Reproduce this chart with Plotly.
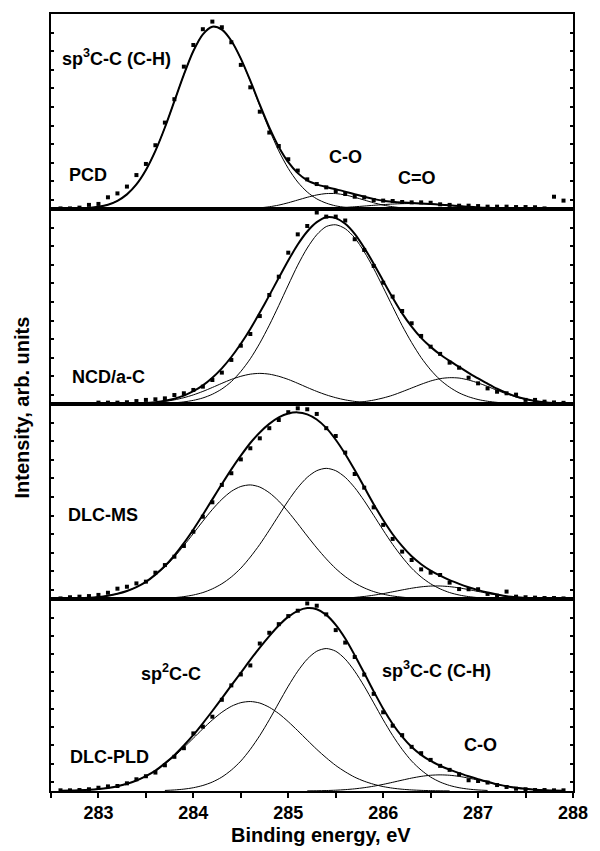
import plotly.graph_objects as go
from plotly.subplots import make_subplots

# Binding energy grid (eV), 0.1 eV step of the measurement
energy = [282.6, 282.7, 282.8, 282.9, 283.0, 283.1, 283.2, 283.3, 283.4, 283.5,
          283.6, 283.7, 283.8, 283.9, 284.0, 284.1, 284.2, 284.3, 284.4, 284.5,
          284.6, 284.7, 284.8, 284.9, 285.0, 285.1, 285.2, 285.3, 285.4, 285.5,
          285.6, 285.7, 285.8, 285.9, 286.0, 286.1, 286.2, 286.3, 286.4, 286.5,
          286.6, 286.7, 286.8, 286.9, 287.0, 287.1, 287.2, 287.3, 287.4, 287.5,
          287.6, 287.7, 287.8, 287.9]

# ---------------- PCD ----------------
pcd_data_start = 282.6
pcd_data = [0.3, 0.3, 0.7, 2.1, 2.6, 6.0, 8.0, 11.5, 17.4, 23.1,
            32.7, 44.3, 56.3, 73.0, 84.1, 92.2, 96.1, 93.2, 85.5, 73.9,
            62.4, 49.9, 39.2, 32.3, 25.5, 19.7, 15.2, 12.8, 11.1, 9.2,
            7.7, 6.3, 6.0, 4.6, 4.3, 4.1, 3.6, 3.4, 3.4, 3.2,
            2.4, 2.1, 1.7, 1.7, 1.5, 1.2, 1.2, 1.2, 1.0, 1.0,
            0.9, 0.3, 6.3, 4.3]
pcd_sp3_start = 282.6
pcd_sp3 = [0.04, 0.1, 0.2, 0.5, 1.1, 2.2, 4.2, 7.5, 12.6, 20.0,
           29.8, 41.8, 55.3, 68.9, 81.0, 89.6, 93.5, 92.0, 86.3, 77.0,
           65.5, 52.9, 40.7, 29.8, 20.8, 13.8, 8.7, 5.2, 3.0, 1.6,
           0.85, 0.4, 0.2, 0.1, 0.0]
pcd_co_start = 284.5
pcd_co = [0.13, 0.3, 0.6, 1.15, 2.0, 3.2, 4.6, 6.0, 7.2, 7.9,
          7.9, 7.2, 6.0, 4.6, 3.2, 2.0, 1.15, 0.6, 0.3, 0.13, 0.05]
pcd_c2o_start = 285.3
pcd_c2o = [0.24, 0.38, 0.58, 0.83, 1.15, 1.51, 1.89, 2.24, 2.54, 2.73,
           2.8, 2.73, 2.54, 2.24, 1.89, 1.51, 1.15, 0.83, 0.58, 0.38,
           0.24, 0.14, 0.08, 0.04]

# ---------------- NCD/a-C ----------------
ncd_data_start = 283.0
ncd_data = [0.7, 0.7, 0.7, 0.9, 1.5, 2.1, 2.4, 2.9, 4.6, 5.5,
            7.2, 8.9, 12.3, 16.1, 22.6, 29.9, 35.9, 45.1, 55.9, 65.3,
            77.6, 87.0, 91.3, 98.2, 96.1, 96.1, 94.1, 84.5, 79.0, 70.8,
            62.2, 55.1, 47.7, 41.4, 34.9, 29.4, 25.7, 21.2, 18.6, 13.5,
            10.6, 8.0, 6.3, 5.5, 4.8, 2.1, 2.1, 1.2, 0.8, 0.6]
ncd_low_start = 283.3
ncd_low = [0.12, 0.24, 0.45, 0.79, 1.33, 2.12, 3.23, 4.68, 6.45, 8.47,
           10.6, 12.6, 14.2, 15.3, 15.7, 15.3, 14.2, 12.6, 10.6, 8.47,
           6.45, 4.68, 3.23, 2.12, 1.33, 0.79, 0.45, 0.24, 0.12]
ncd_main_start = 283.6
ncd_main = [0.17, 0.33, 0.61, 1.08, 1.87, 3.1, 5.0, 7.7, 11.5, 16.7,
            23.2, 31.2, 40.4, 50.5, 61.0, 71.2, 80.0, 86.8, 91.0, 91.9,
            89.9, 85.2, 78.1, 69.5, 59.8, 49.9, 40.2, 31.5, 23.8, 17.5,
            12.4, 8.6, 5.7, 3.7, 2.3, 1.4, 0.82, 0.47, 0.26, 0.14, 0.07]
ncd_high_start = 285.4
ncd_high = [0.1, 0.2, 0.39, 0.71, 1.23, 2.0, 3.1, 4.5, 6.3, 8.2,
            10.1, 11.8, 13.0, 13.5, 13.3, 12.3, 10.8, 9.0, 7.0, 5.2,
            3.6, 2.4, 1.5, 0.89, 0.5, 0.26]

# ---------------- DLC-MS ----------------
dlcms_data_start = 282.6
dlcms_data = [0.3, 0.9, 1.2, 1.5, 2.1, 3.2, 5.3, 6.3, 8.0, 8.9,
              13.5, 17.4, 21.7, 27.2, 34.5, 42.2, 49.6, 58.5, 64.5, 71.6,
              77.3, 82.4, 87.6, 91.8, 95.8, 97.8, 97.3, 94.9, 87.6, 83.6,
              75.1, 64.1, 57.1, 47.0, 38.0, 30.8, 24.3, 20.0, 15.2, 13.5,
              12.3, 8.4, 5.1, 5.0, 5.0, 2.6, 1.7, 3.8, 1.2, 0.9,
              0.7, 0.5, 0.5, 0.3]
dlcms_sp2_start = 282.6
dlcms_sp2 = [0.1, 0.2, 0.35, 0.62, 1.04, 1.7, 2.69, 4.1, 6.1, 8.8,
             12.3, 16.5, 21.6, 27.4, 33.6, 39.9, 45.9, 51.1, 55.2, 57.7,
             58.5, 57.4, 54.5, 50.2, 44.7, 38.6, 32.3, 26.2, 20.6, 15.6,
             11.5, 8.2, 5.7, 3.8, 2.46, 1.54, 0.94, 0.55, 0.31, 0.17, 0.09]
dlcms_sp3_start = 283.6
dlcms_sp3 = [0.21, 0.39, 0.70, 1.22, 2.05, 3.3, 5.2, 7.8, 11.3, 15.8,
             21.5, 28.0, 35.3, 42.9, 50.4, 57.1, 62.4, 65.8, 67.0, 65.8,
             62.4, 57.1, 50.4, 42.9, 35.3, 28.0, 21.5, 15.8, 11.3, 7.8,
             5.2, 3.3, 2.05, 1.22, 0.70, 0.39, 0.21]
dlcms_co_start = 285.3
dlcms_co = [0.07, 0.15, 0.28, 0.49, 0.82, 1.30, 1.95, 2.75, 3.68, 4.64,
            5.53, 6.23, 6.63, 6.67, 6.34, 5.69, 4.83, 3.87, 2.93, 2.10,
            1.42, 0.91, 0.55, 0.31, 0.17, 0.09]

# ---------------- DLC-PLD ----------------
dlcpld_data_start = 282.6
dlcpld_data = [0.35, 0.35, 0.5, 0.9, 1.7, 2.4, 2.6, 4.0, 6.1, 7.7,
               9.6, 13.4, 17.8, 22.3, 30.0, 33.5, 38.7, 47.5, 55.0, 60.7,
               65.4, 76.8, 82.4, 86.9, 91.1, 93.9, 97.7, 96.5, 92.0, 83.8,
               77.3, 69.8, 60.6, 50.6, 41.0, 34.0, 29.1, 23.0, 19.7, 16.2,
               13.1, 11.0, 8.7, 5.6, 5.2, 4.4, 3.1, 2.1, 1.2, 0.9,
               0.5, 0.5, 0.35, 0.35]
dlcpld_sp2_start = 282.6
dlcpld_sp2 = [0.12, 0.21, 0.37, 0.62, 1.02, 1.62, 2.51, 3.77, 5.47, 7.73,
              10.6, 14.1, 18.1, 22.7, 27.5, 32.4, 37.0, 41.0, 44.1, 46.0,
              46.6, 45.8, 43.6, 40.3, 36.1, 31.4, 26.5, 21.7, 17.3, 13.3,
              10.0, 7.2, 5.1, 3.5, 2.3, 1.48, 0.92, 0.56, 0.33, 0.19,
              0.1, 0.05]
dlcpld_sp3_start = 283.7
dlcpld_sp3 = [0.29, 0.54, 0.98, 1.71, 2.88, 4.66, 7.25, 10.9, 15.6, 21.7,
              28.9, 37.1, 45.9, 54.6, 62.4, 68.7, 72.8, 74.2, 72.8, 68.7,
              62.4, 54.6, 45.9, 37.1, 28.9, 21.7, 15.6, 10.9, 7.25, 4.66,
              2.88, 1.71, 0.98, 0.54, 0.29]
dlcpld_co_start = 285.2
dlcpld_co = [0.07, 0.13, 0.24, 0.42, 0.71, 1.13, 1.73, 2.50, 3.45, 4.53,
             5.66, 6.73, 7.61, 8.2, 8.4, 8.2, 7.61, 6.73, 5.66, 4.53,
             3.45, 2.50, 1.73, 1.13, 0.71, 0.42, 0.24, 0.13]

# x tick labels (major ticks at integer eV, minor every 0.5 eV)
tick_values = [283, 284, 285, 286, 287, 288]
tick_labels = ["283", "284", "285", "286", "287", "288"]

panels = [
    (pcd_data_start, pcd_data, [(pcd_sp3_start, pcd_sp3), (pcd_co_start, pcd_co), (pcd_c2o_start, pcd_c2o)]),
    (ncd_data_start, ncd_data, [(ncd_low_start, ncd_low), (ncd_main_start, ncd_main), (ncd_high_start, ncd_high)]),
    (dlcms_data_start, dlcms_data, [(dlcms_sp2_start, dlcms_sp2), (dlcms_sp3_start, dlcms_sp3), (dlcms_co_start, dlcms_co)]),
    (dlcpld_data_start, dlcpld_data, [(dlcpld_sp2_start, dlcpld_sp2), (dlcpld_sp3_start, dlcpld_sp3), (dlcpld_co_start, dlcpld_co)]),
]

FONT = "Liberation Sans, Arial, sans-serif"

fig = make_subplots(rows=4, cols=1, shared_xaxes=True, vertical_spacing=0,
                    row_heights=[195, 195, 195, 192])


def idx(e):
    return [round(v, 1) for v in energy].index(round(e, 1))


for row, (dstart, data, comps) in enumerate(panels, start=1):
    env = [0.0] * len(energy)
    for cstart, vals in comps:
        j = idx(cstart)
        xs = energy[j:j + len(vals)]
        fig.add_trace(go.Scatter(x=xs, y=vals, mode="lines",
                                 line=dict(color="black", width=1, shape="spline", smoothing=0.8),
                                 hoverinfo="skip", showlegend=False), row=row, col=1)
        for k, v in enumerate(vals):
            env[j + k] += v
    fig.add_trace(go.Scatter(x=energy, y=env, mode="lines",
                             line=dict(color="black", width=2, shape="spline", smoothing=0.8),
                             hoverinfo="skip", showlegend=False), row=row, col=1)
    i0 = idx(dstart)
    fig.add_trace(go.Scatter(x=energy[i0:i0 + len(data)], y=data, mode="markers",
                             marker=dict(symbol="square", size=4, color="black"),
                             cliponaxis=False, showlegend=False), row=row, col=1)

for row in range(1, 5):
    fig.update_yaxes(range=[0, 100], showline=True, linecolor="black", linewidth=1.5,
                     mirror="ticks", ticks="inside", ticklen=3, tickwidth=1.5, tickcolor="black",
                     tick0=4.8, dtick=9.5, showticklabels=False, showgrid=False, zeroline=False,
                     row=row, col=1)
    fig.update_xaxes(range=[282.5, 288], showline=True, linecolor="black", linewidth=1.5,
                     mirror=True, showgrid=False, zeroline=False, row=row, col=1)

fig.update_xaxes(ticks="outside", ticklen=5, tickwidth=1.5, tickcolor="black",
                 tickmode="array", tickvals=tick_values, ticktext=tick_labels,
                 minor=dict(ticks="outside", ticklen=5, tickwidth=1.5, tickcolor="black",
                            tick0=282.5, dtick=0.5, showgrid=False),
                 showticklabels=True,
                 tickfont=dict(family=FONT, size=18, color="black", weight="bold"),
                 row=4, col=1)

labels = [
    (1, 283.19, 77.9, "sp<sup>3</sup>C-C (C-H)"),
    (1, 282.89, 17.4, "PCD"),
    (1, 285.60, 26.7, "C-O"),
    (1, 286.36, 15.9, "C=O"),
    (2, 283.11, 13.8, "NCD/a-C"),
    (3, 283.05, 43.1, "DLC-MS"),
    (4, 283.76, 61.8, "sp<sup>2</sup>C-C"),
    (4, 286.56, 63.4, "sp<sup>3</sup>C-C (C-H)"),
    (4, 283.12, 17.8, "DLC-PLD"),
    (4, 287.03, 24.1, "C-O"),
]
for row, x, y, t in labels:
    fig.add_annotation(x=x, y=y, text="<b>" + t + "</b>", showarrow=False,
                       xanchor="center", yanchor="middle",
                       xref="x" if row == 1 else "x%d" % row,
                       yref="y" if row == 1 else "y%d" % row,
                       font=dict(family=FONT, size=18, color="black"))

fig.add_annotation(x=0.517, y=-0.0566, xref="paper", yref="paper",
                   xanchor="center", yanchor="middle",
                   text="<b>Binding energy, eV</b>", showarrow=False,
                   font=dict(family=FONT, size=20, color="black"))
fig.add_annotation(x=-0.0563, y=0.493, xref="paper", yref="paper",
                   xanchor="center", yanchor="middle",
                   text="<b>Intensity, arb. units</b>", showarrow=False, textangle=-90,
                   font=dict(family=FONT, size=20, color="black"))

fig.update_layout(width=600, height=851, margin=dict(l=51, r=16, t=14, b=60),
                  paper_bgcolor="white", plot_bgcolor="white", showlegend=False)

fig.write_html("out.html", config={"displayModeBar": False},
               post_script="document.body.style.margin='0px';")
